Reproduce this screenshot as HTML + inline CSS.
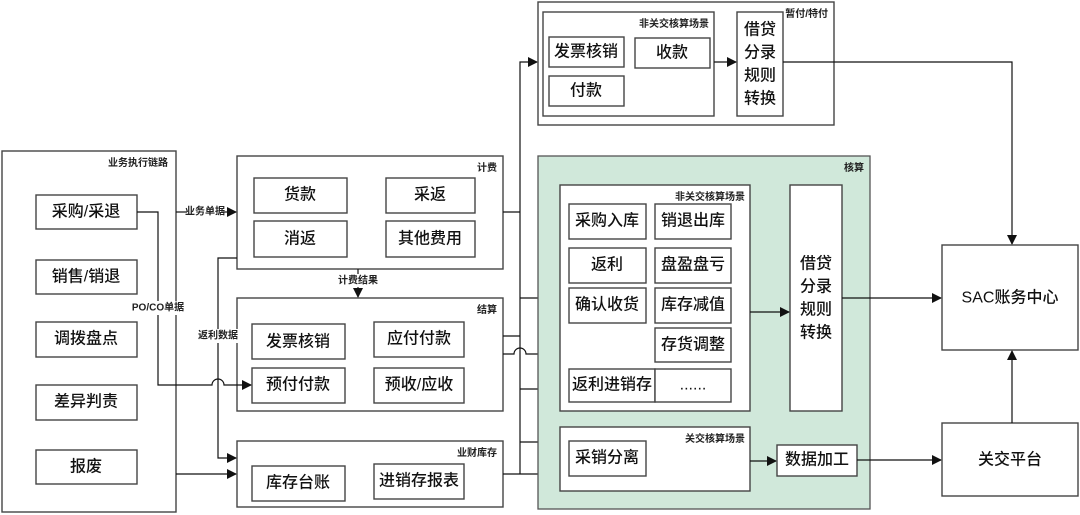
<!DOCTYPE html>
<html><head><meta charset="utf-8"><style>
html,body{margin:0;padding:0;background:#fff;}
svg{display:block;font-family:"Liberation Sans","Noto Sans CJK SC",sans-serif;}
.b{fill:#fff;stroke:#444;stroke-width:1.4;}
.t{font-size:16px;fill:#111;text-anchor:middle;dominant-baseline:central;font-weight:500;}
.s{font-size:10px;fill:#222;text-anchor:end;font-weight:bold;}
.l{font-size:10px;fill:#222;text-anchor:middle;dominant-baseline:central;font-weight:bold;}
.c{fill:none;stroke:#111;stroke-width:1.2;}
</style></head><body>
<svg width="1080" height="515" viewBox="0 0 1080 515">
<defs><marker id="a" markerWidth="10" markerHeight="10" refX="9" refY="5" orient="auto" markerUnits="userSpaceOnUse"><path d="M0,0 L10,5 L0,10 z" fill="#111"/></marker></defs>

<rect class="b" x="2" y="151" width="174" height="361"/>
<text class="s" x="168" y="166">业务执行链路</text>
<rect class="b" x="36" y="195" width="101" height="34"/><text class="t" x="86" y="212">采购/采退</text>
<rect class="b" x="36" y="260" width="101" height="34"/><text class="t" x="86" y="277">销售/销退</text>
<rect class="b" x="36" y="322" width="101" height="35"/><text class="t" x="86" y="339">调拨盘点</text>
<rect class="b" x="36" y="385" width="101" height="35"/><text class="t" x="86" y="402">差异判责</text>
<rect class="b" x="36" y="450" width="101" height="34"/><text class="t" x="86" y="467">报废</text>

<rect class="b" x="237" y="156" width="266" height="113"/>
<text class="s" x="497" y="171">计费</text>
<rect class="b" x="254" y="178" width="93" height="35"/><text class="t" x="300" y="195">货款</text>
<rect class="b" x="386" y="178" width="89" height="35"/><text class="t" x="430" y="195">采返</text>
<rect class="b" x="254" y="221" width="93" height="36"/><text class="t" x="300" y="239">消返</text>
<rect class="b" x="386" y="221" width="89" height="36"/><text class="t" x="430" y="239">其他费用</text>

<rect class="b" x="237" y="298" width="266" height="113"/>
<text class="s" x="497" y="313">结算</text>
<rect class="b" x="252" y="324" width="93" height="35"/><text class="t" x="298" y="342">发票核销</text>
<rect class="b" x="374" y="322" width="90" height="35"/><text class="t" x="419" y="339">应付付款</text>
<rect class="b" x="252" y="368" width="93" height="35"/><text class="t" x="298" y="385">预付付款</text>
<rect class="b" x="374" y="368" width="90" height="35"/><text class="t" x="419" y="385">预收/应收</text>

<rect class="b" x="237" y="441" width="266" height="66"/>
<text class="s" x="497" y="456">业财库存</text>
<rect class="b" x="252" y="466" width="93" height="35"/><text class="t" x="298" y="483">库存台账</text>
<rect class="b" x="374" y="464" width="90" height="35"/><text class="t" x="419" y="481">进销存报表</text>

<path class="c" d="M176,212 L187,212"/><path class="c" d="M223,212 L236,212" marker-end="url(#a)"/>
<text class="l" x="205" y="212">业务单据</text>
<path class="c" d="M137,212 L158,212 L158,385 L212,385 A6,6 0 0 1 224,385 L251,385" marker-end="url(#a)"/>
<rect x="130" y="301" width="56" height="14" fill="#fff"/><text class="l" x="158" y="308">PO/CO单据</text>
<path class="c" d="M237,258 L218,258 L218,458 L236,458" marker-end="url(#a)"/>
<rect x="196" y="329" width="44" height="14" fill="#fff"/><text class="l" x="218" y="336">返利数据</text>
<path class="c" d="M176,474 L236,474" marker-end="url(#a)"/>
<path class="c" d="M358,269 L358,274"/><path class="c" d="M358,287 L358,297" marker-end="url(#a)"/>
<text class="l" x="358" y="281">计费结果</text>

<path class="c" d="M503,212 L520,212"/>
<path class="c" d="M503,336 L520,336"/>
<path class="c" d="M503,474 L559,474" marker-end="url(#a)"/>
<path class="c" d="M520,474 L520,62 L537,62" marker-end="url(#a)"/>
<path class="c" d="M520,298 L559,298" marker-end="url(#a)"/>
<path class="c" d="M503,354 L514,354 A6,6 0 0 1 526,354 L559,354" marker-end="url(#a)"/>
<path class="c" d="M520,389 L559,389" marker-end="url(#a)"/>
<path class="c" d="M520,442 L559,442" marker-end="url(#a)"/>

<rect class="b" x="538" y="2" width="296" height="123"/>
<text class="s" x="828" y="17">暂付/特付</text>
<rect class="b" x="543" y="12" width="171" height="104"/>
<text class="s" x="709" y="27">非关交核算场景</text>
<rect class="b" x="549" y="37" width="75" height="30"/><text class="t" x="586" y="52">发票核销</text>
<rect class="b" x="635" y="38" width="75" height="30"/><text class="t" x="672" y="53">收款</text>
<rect class="b" x="549" y="76" width="75" height="30"/><text class="t" x="586" y="91">付款</text>
<rect class="b" x="737" y="12" width="46" height="104"/>
<text class="t" x="760" y="30">借贷</text><text class="t" x="760" y="53">分录</text><text class="t" x="760" y="76">规则</text><text class="t" x="760" y="99">转换</text>
<path class="c" d="M714,62 L736,62" marker-end="url(#a)"/>
<path class="c" d="M783,62 L1012,62 L1012,244" marker-end="url(#a)"/>

<rect x="538" y="156" width="332" height="353" fill="#d0e8da" stroke="#555" stroke-width="1.3"/>
<text class="s" x="864" y="171">核算</text>
<rect class="b" x="560" y="185" width="190" height="226"/>
<text class="s" x="745" y="200">非关交核算场景</text>
<rect class="b" x="569" y="204" width="77" height="35"/><text class="t" x="607" y="221">采购入库</text>
<rect class="b" x="655" y="204" width="76" height="35"/><text class="t" x="693" y="221">销退出库</text>
<rect class="b" x="569" y="248" width="77" height="35"/><text class="t" x="607" y="265">返利</text>
<rect class="b" x="655" y="248" width="76" height="35"/><text class="t" x="693" y="265">盘盈盘亏</text>
<rect class="b" x="569" y="288" width="77" height="35"/><text class="t" x="607" y="305">确认收货</text>
<rect class="b" x="655" y="288" width="76" height="35"/><text class="t" x="693" y="305">库存减值</text>
<rect class="b" x="655" y="328" width="76" height="34"/><text class="t" x="693" y="345">存货调整</text>
<rect class="b" x="569" y="369" width="86" height="33"/><text class="t" x="612" y="385">返利进销存</text>
<rect class="b" x="655" y="369" width="76" height="33"/><text class="t" x="693" y="385">......</text>
<rect class="b" x="790" y="185" width="52" height="226"/>
<text class="t" x="816" y="264">借贷</text><text class="t" x="816" y="287">分录</text><text class="t" x="816" y="310">规则</text><text class="t" x="816" y="333">转换</text>
<path class="c" d="M750,312 L789,312" marker-end="url(#a)"/>
<rect class="b" x="560" y="427" width="190" height="64"/>
<text class="s" x="745" y="442">关交核算场景</text>
<rect class="b" x="569" y="441" width="77" height="35"/><text class="t" x="607" y="458">采销分离</text>
<path class="c" d="M750,461 L776,461" marker-end="url(#a)"/>
<rect class="b" x="777" y="445" width="80" height="31"/><text class="t" x="817" y="460">数据加工</text>
<path class="c" d="M842,298 L941,298" marker-end="url(#a)"/>
<path class="c" d="M857,460 L941,460" marker-end="url(#a)"/>

<rect class="b" x="942" y="245" width="136" height="105"/><text class="t" x="1010" y="298">SAC账务中心</text>
<rect class="b" x="942" y="423" width="136" height="73"/><text class="t" x="1010" y="460">关交平台</text>
<path class="c" d="M1012,423 L1012,351" marker-end="url(#a)"/>
</svg>
</body></html>
